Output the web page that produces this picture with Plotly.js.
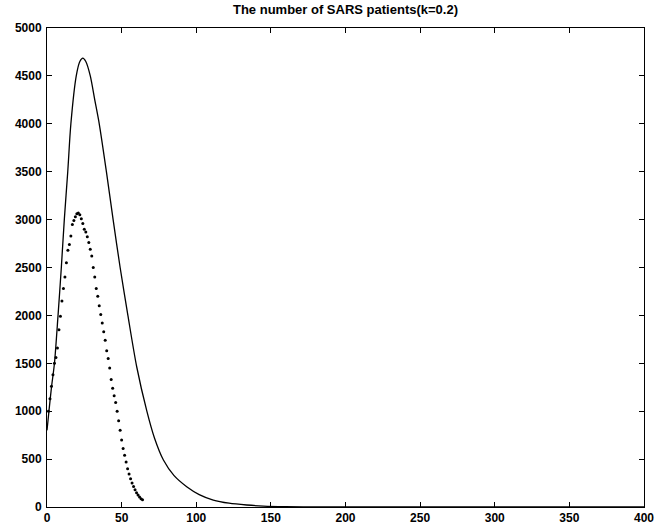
<!DOCTYPE html>
<html>
<head>
<meta charset="utf-8">
<script src="https://cdn.plot.ly/plotly-3.0.1.min.js"></script>
<style>html,body{margin:0;padding:0;background:#fff;}#chart{width:657px;height:531px;}</style>
</head>
<body>
<div id="chart"></div>
<script>
// Solid curve (model)
const modelDays = [0,1.3,3,5,7.4,9.6,11.6,13.9,16,19.6,22,24,26,29,32,35,39.8,44.3,49,54.2,60.1,66.9,72,78,85,93.6,102,111.4,122,133.8,145,160,180,220,300,400];
const modelPatients = [800,1000,1250,1500,2000,2500,3000,3500,4000,4500,4650,4685,4650,4500,4250,4000,3500,3000,2500,2000,1464,1000,720,490,330,212,130,73,40,21,10,4,1,0,0,0];

// Dotted series (observed)
const obsDays = [1,2,3,4,5,6,7,8,9,10,11,12,13,14,15,16,17,18,19,20,21,22,23,24,25,26,27,28,29,30,31,32,33,34,35,36,37,38,39,40,41,42,43,44,45,46,47,48,49,50,51,52,53,54,55,56,57,58,59,60,61,62,63,64];
const obsPatients = [1000,1130,1260,1380,1500,1560,1660,1850,1990,2150,2280,2400,2550,2680,2740,2830,2950,2990,3030,3060,3070,3050,3010,2960,2900,2870,2820,2760,2690,2620,2500,2400,2280,2200,2100,2010,1920,1830,1740,1630,1550,1450,1330,1240,1160,1090,1000,900,800,700,610,540,470,400,345,295,250,215,180,150,125,105,85,75];

const titleText = 'The number of SARS patients(k=0.2)';
const xTicks = [0,50,100,150,200,250,300,350,400];
const yTicks = [0,500,1000,1500,2000,2500,3000,3500,4000,4500,5000];

const traces = [
  {x: modelDays, y: modelPatients, mode: 'lines', line: {color: '#000', width: 1.3, shape: 'spline', smoothing: 0.8}, showlegend: false, hoverinfo: 'none'},
  {x: obsDays, y: obsPatients, mode: 'markers', marker: {color: '#000', size: 3}, showlegend: false, hoverinfo: 'none'}
];

const axisCommon = {
  showgrid: false, zeroline: false, showline: true, linecolor: '#000', linewidth: 1,
  mirror: 'ticks', ticks: 'inside', ticklen: 5, tickcolor: '#000', tickwidth: 1,
  tickfont: {family: 'Liberation Sans, Arial, sans-serif', size: 12, color: '#000', weight: 'bold'}
};

const layout = {
  width: 657, height: 531,
  margin: {l: 47, r: 13, t: 28, b: 24},
  paper_bgcolor: '#fff', plot_bgcolor: '#fff',
  title: {text: titleText, font: {family: 'Liberation Sans, Arial, sans-serif', size: 13, color: '#000', weight: 'bold'}, xref: 'paper', x: 0.5, xanchor: 'center', y: 0.99, yanchor: 'top'},
  xaxis: Object.assign({}, axisCommon, {range: [0, 400], tickvals: xTicks, ticktext: xTicks.map(String)}),
  yaxis: Object.assign({}, axisCommon, {range: [0, 5000], tickvals: yTicks, ticktext: yTicks.map(String), ticklabelstandoff: 2})
};

Plotly.newPlot('chart', traces, layout, {displayModeBar: false, staticPlot: true});
</script>
</body>
</html>
